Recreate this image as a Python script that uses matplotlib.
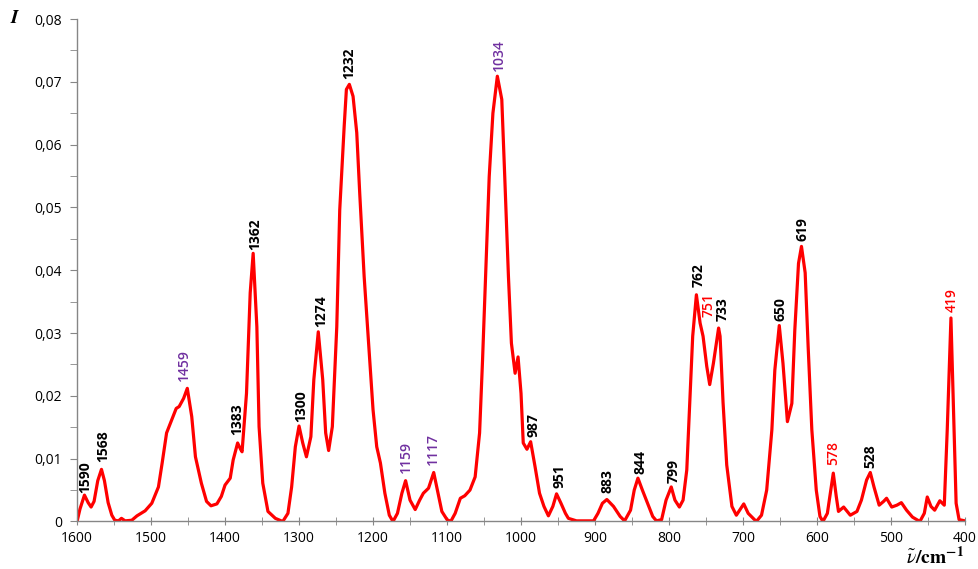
import numpy as np
import matplotlib
matplotlib.use("Agg")
import matplotlib.pyplot as plt
from matplotlib.ticker import MultipleLocator, FuncFormatter

# spectrum (wavenumber, intensity)
wavenumber = [1600, 1596, 1590, 1585, 1581, 1577, 1572, 1567, 1563, 1558, 1553, 1549, 1544,
              1540, 1535, 1526, 1519, 1508, 1499, 1490, 1485, 1479, 1472, 1466, 1462, 1456,
              1451, 1445, 1440, 1432, 1425, 1419, 1411, 1405, 1400, 1393, 1389, 1383, 1379,
              1377, 1371, 1366, 1362, 1357, 1354, 1349, 1342, 1332, 1322, 1315, 1310, 1305,
              1300, 1295, 1290, 1284, 1280, 1274, 1268, 1264, 1260, 1255, 1249, 1245, 1239,
              1236, 1232, 1227, 1222, 1218, 1212, 1206, 1200, 1195, 1190, 1184, 1178, 1173,
              1167, 1161, 1156, 1150, 1143, 1137, 1132, 1125, 1118, 1113, 1107, 1100, 1095,
              1089, 1082, 1076, 1069, 1062, 1056, 1052, 1047, 1043, 1038, 1032, 1026, 1022,
              1017, 1013, 1008, 1004, 1000, 997, 992, 987, 981, 975, 969, 963, 957, 952, 946,
              940, 936, 925, 902, 896, 890, 884, 875, 866, 860, 852, 847, 842, 836, 829, 822,
              817, 810, 804, 797, 792, 786, 781, 776, 772, 768, 763, 758, 754, 749, 745, 740,
              733, 731, 727, 722, 715, 709, 699, 693, 682, 675, 668, 661, 657, 651, 646, 640,
              634, 630, 625, 621, 616, 612, 607, 601, 596, 592, 586, 582, 578, 574, 571, 564,
              555, 546, 540, 533, 528, 523, 516, 510, 506, 499, 492, 486, 479, 471, 461, 455,
              451, 446, 441, 434, 428, 424, 419, 416, 412, 408, 400]
intensity = [0.0000, 0.0020, 0.0042, 0.0030, 0.0023, 0.0032, 0.0065, 0.0083, 0.0065, 0.0030,
             0.0010, 0.0002, 0.0001, 0.0005, 0.0001, 0.0002, 0.0009, 0.0017, 0.0029, 0.0055,
             0.0093, 0.0141, 0.0162, 0.0180, 0.0183, 0.0196, 0.0212, 0.0167, 0.0103, 0.0061,
             0.0032, 0.0025, 0.0028, 0.0040, 0.0058, 0.0069, 0.0098, 0.0125, 0.0115, 0.0111,
             0.0204, 0.0364, 0.0427, 0.0310, 0.0151, 0.0061, 0.0016, 0.0005, 0.0000, 0.0013,
             0.0055, 0.0119, 0.0152, 0.0125, 0.0103, 0.0135, 0.0226, 0.0302, 0.0226, 0.0141,
             0.0113, 0.0151, 0.0310, 0.0496, 0.0629, 0.0688, 0.0696, 0.0677, 0.0619, 0.0523,
             0.0390, 0.0284, 0.0178, 0.0119, 0.0093, 0.0045, 0.0010, 0.0000, 0.0013, 0.0045,
             0.0065, 0.0034, 0.0019, 0.0034, 0.0045, 0.0053, 0.0078, 0.0050, 0.0016, 0.0003,
             0.0000, 0.0013, 0.0037, 0.0041, 0.0050, 0.0071, 0.0141, 0.0257, 0.0417, 0.0549,
             0.0650, 0.0709, 0.0672, 0.0549, 0.0390, 0.0284, 0.0236, 0.0262, 0.0204, 0.0125,
             0.0115, 0.0127, 0.0087, 0.0045, 0.0024, 0.0009, 0.0024, 0.0044, 0.0029, 0.0013,
             0.0005, 0.0001, 0.0001, 0.0013, 0.0029, 0.0035, 0.0024, 0.0008, 0.0001, 0.0018,
             0.0050, 0.0069, 0.0050, 0.0029, 0.0008, 0.0001, 0.0003, 0.0034, 0.0055, 0.0034,
             0.0023, 0.0034, 0.0082, 0.0188, 0.0295, 0.0361, 0.0316, 0.0295, 0.0247, 0.0218,
             0.0252, 0.0308, 0.0295, 0.0190, 0.0090, 0.0024, 0.0010, 0.0028, 0.0013, 0.0000,
             0.0010, 0.0050, 0.0146, 0.0241, 0.0312, 0.0252, 0.0159, 0.0188, 0.0305, 0.0411,
             0.0438, 0.0396, 0.0279, 0.0146, 0.0050, 0.0008, 0.0000, 0.0013, 0.0045, 0.0077,
             0.0040, 0.0016, 0.0023, 0.0010, 0.0016, 0.0034, 0.0066, 0.0078, 0.0055, 0.0026,
             0.0032, 0.0037, 0.0023, 0.0026, 0.0030, 0.0018, 0.0007, 0.0000, 0.0013, 0.0039,
             0.0024, 0.0018, 0.0033, 0.0026, 0.0146, 0.0324, 0.0199, 0.0029, 0.0003, 0.0001]

# peak labels
peak_text = ["1590", "1568", "1459", "1383", "1362", "1300", "1274", "1232", "1159", "1117",
             "1034", "987", "951", "883", "844", "799", "762", "751", "733", "650", "619",
             "578", "528", "419"]
peak_x = [1589, 1565, 1455, 1384, 1359.5, 1297, 1270.5, 1232, 1155.5, 1118.5, 1030, 983.5,
          948, 883, 839, 794, 760.5, 746, 727.5, 650, 619.5, 577.5, 527.5, 418]
peak_y = [0.0045, 0.0095, 0.0223, 0.0138, 0.0433, 0.0159, 0.0310, 0.0704, 0.0077, 0.0090,
          0.0718, 0.0135, 0.0053, 0.0046, 0.0076, 0.0062, 0.0373, 0.0326, 0.0320, 0.0320,
          0.0446, 0.0090, 0.0085, 0.0334]
purple = "#7030A0"
peak_color = ["black", "black", purple, "black", "black", "black", "black", "black", purple,
              purple, purple, "black", "black", "black", "black", "black", "black", "red",
              "black", "black", "black", "red", "black", "red"]

plt.rcParams['font.family'] = ['Open Sans', 'DejaVu Sans']
plt.rcParams['mathtext.fontset'] = 'stix'

fig = plt.figure(figsize=(9.79, 5.69), dpi=100)
ax = fig.add_axes([0.0787, 0.0835, 0.907, 0.883])

ax.plot(wavenumber, intensity, color="red", lw=2.3, solid_joinstyle="round")

for t, x, y, c in zip(peak_text, peak_x, peak_y, peak_color):
    ax.text(x, y, t, rotation=90, ha="center", va="bottom", color=c,
            fontsize=10, fontweight="bold" if c == "black" else "semibold")

ax.set_xlim(1600, 400)
ax.set_ylim(0, 0.08)
ax.xaxis.set_major_locator(MultipleLocator(100))
ax.xaxis.set_minor_locator(MultipleLocator(50))
ax.yaxis.set_major_locator(MultipleLocator(0.01))
ax.yaxis.set_minor_locator(MultipleLocator(0.005))
ax.yaxis.set_major_formatter(FuncFormatter(lambda v, p: "0" if v == 0 else f"{v:.2f}".replace(".", ",")))

gray = "#868686"
for s in ["top", "right"]:
    ax.spines[s].set_visible(False)
for s in ["left", "bottom"]:
    ax.spines[s].set_color(gray)
    ax.spines[s].set_linewidth(1.0)
ax.tick_params(axis="x", which="both", direction="inout", length=6, color=gray, labelsize=10, pad=4)
ax.tick_params(axis="y", which="both", direction="out", length=5, color=gray, labelsize=10, pad=6)

fig.text(0.016, 0.968, r"$\boldsymbol{I}$", fontsize=14, ha="center", va="center")
fig.text(0.925, 0.008, r"$\boldsymbol{\tilde{\nu}}\mathbf{/cm^{-1}}$", fontsize=14,
         ha="left", va="baseline")

fig.savefig("out.png", dpi=100)
